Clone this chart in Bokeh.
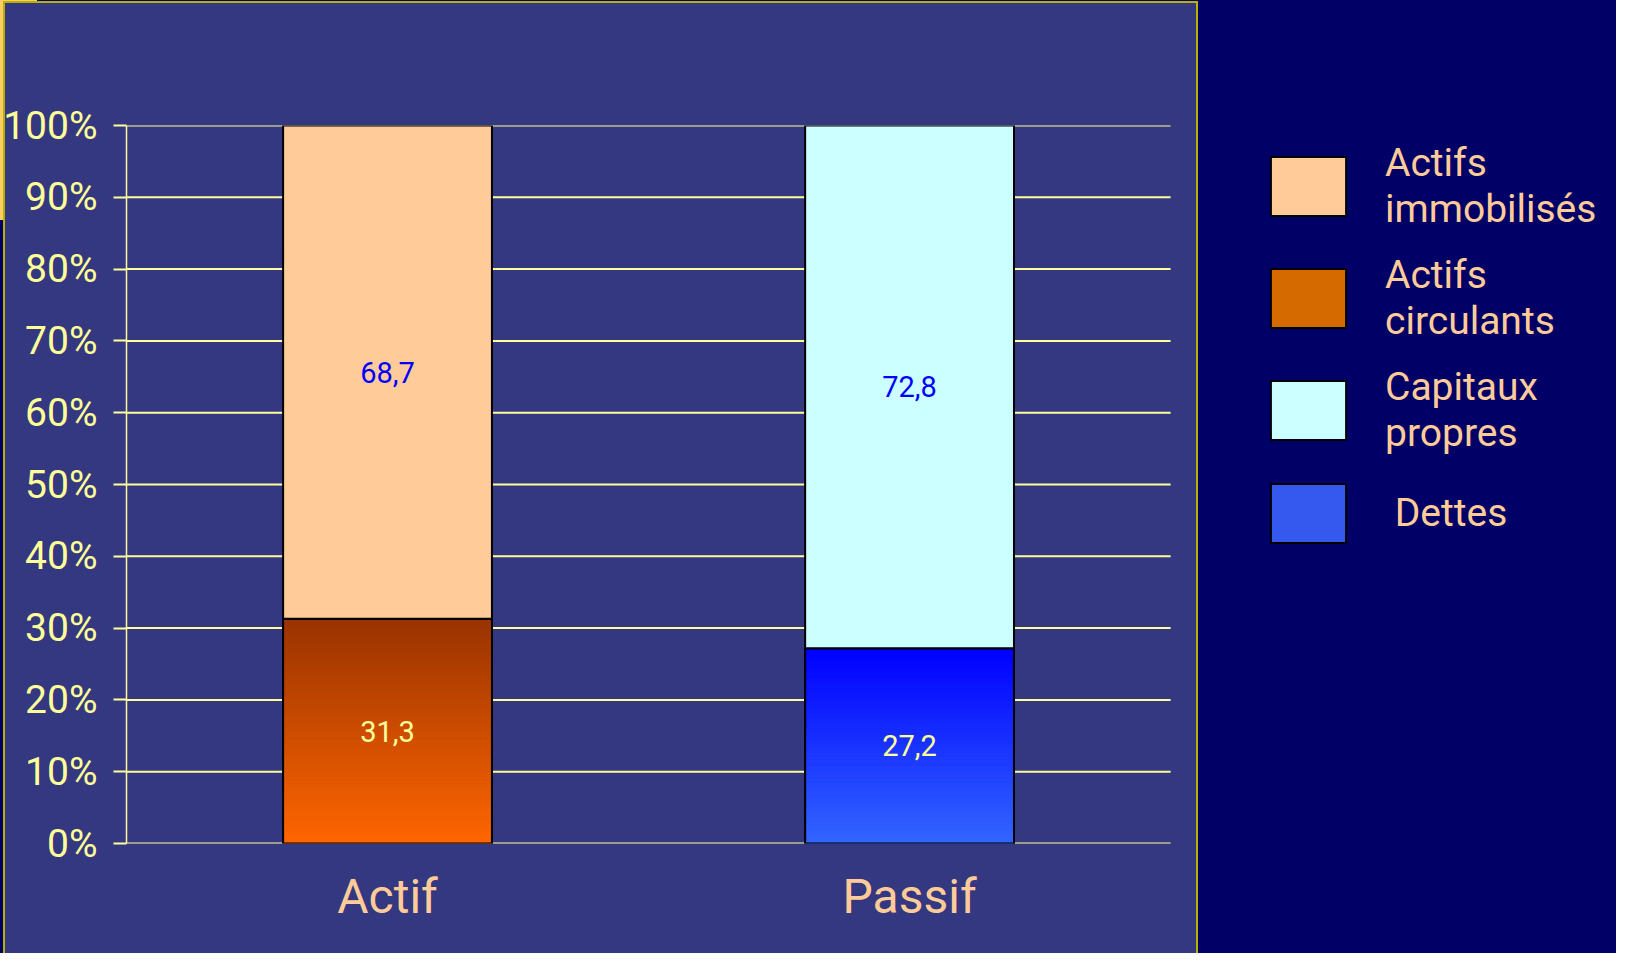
from bokeh.plotting import figure
from bokeh.models import (Range1d, FixedTicker, PrintfTickFormatter,
                          Legend, LegendItem, ColumnDataSource)
from bokeh.embed import file_html
from bokeh.resources import INLINE
from bokeh.core.properties import value

# ---------------- data ----------------
categories = ["Actif", "Passif"]
bottom_names = ["Actifs circulants", "Dettes"]
bottom_values = [31.3, 27.2]
top_names = ["Actifs immobilisés", "Capitaux propres"]
top_values = [68.7, 72.8]
y_ticks = [0, 10, 20, 30, 40, 50, 60, 70, 80, 90, 100]
legend_order = ["Actifs immobilisés", "Actifs circulants", "Capitaux propres", "Dettes"]
legend_labels = ["Actifs\nimmobilisés", "Actifs\ncirculants", "Capitaux\npropres", " Dettes"]

# ---------------- style / layout ----------------
FONT = "Roboto"
NAVY = "#000066"
PANEL = "#343880"
PANEL_EDGE = "#b3b300"
ACCENT = "#ffcc66"
GRID = "#ffff99"
PEACH = "#ffcc99"
top_colors = ["#ffcc99", "#ccffff"]
bottom_grad = [("#ff6600", "#993300"), ("#3366ff", "#0000ff")]  # (bottom, top)
bottom_legend_colors = ["#d46a00", "#3558ee"]
top_label_colors = ["#0000ff", "#0000ff"]
bottom_label_colors = ["#ffff99", "#ffff99"]
BAR_W = 0.4
W, H = 1616, 953
LEFT, TOP, BOTTOM = 119, 125, 110
PLOT_W = 1049                       # width of the chart area proper
FRAME_W = W - LEFT                  # frame runs to the right edge (legend zone)
X_END = len(categories) * FRAME_W / PLOT_W


def hex2rgb(h):
    h = h.lstrip("#")
    return tuple(int(h[i:i + 2], 16) for i in (0, 2, 4))


def mix(c0, c1, t):
    a, b = hex2rgb(c0), hex2rgb(c1)
    return "#%02x%02x%02x" % tuple(int(round(a[i] + (b[i] - a[i]) * t)) for i in range(3))


xs = [i + 0.5 for i in range(len(categories))]

p = figure(width=W, height=H, x_range=Range1d(0, X_END), y_range=Range1d(0, 100),
           output_backend="svg", toolbar_location=None, title=None,
           min_border_left=LEFT, min_border_right=0,
           min_border_top=TOP, min_border_bottom=BOTTOM)
p.border_fill_color = None
p.background_fill_color = None
p.outline_line_color = None
# slide background: navy page, accent block, bordered panel
p.styles = {
    "background": (
        f"linear-gradient({PANEL},{PANEL}) 5px 3px / 1191px 970px no-repeat, "
        f"linear-gradient({PANEL_EDGE},{PANEL_EDGE}) 3px 1px / 1195px 970px no-repeat, "
        f"linear-gradient({ACCENT},{ACCENT}) 0px 0px / 37px 220px no-repeat, "
        f"{NAVY}"
    )
}

# horizontal grid lines over the chart area only
p.segment(x0=0, x1=len(categories), y0=y_ticks, y1=y_ticks,
          line_color=GRID, line_width=2)

# bottom segments (base, used for legend swatch)
src_bot = ColumnDataSource(dict(x=xs, top=bottom_values, color=bottom_legend_colors))
r_bot = p.vbar(x="x", top="top", bottom=0, width=BAR_W, source=src_bot,
               fill_color="color", line_color="black", line_width=2)

# gradient slices for bottom segments
N = 60
gx, gb, gt, gc = [], [], [], []
for xc, v, (c0, c1) in zip(xs, bottom_values, bottom_grad):
    for i in range(N):
        gx.append(xc)
        gb.append(v * i / N)
        gt.append(v * (i + 1) / N)
        gc.append(mix(c0, c1, (i + 0.5) / N))
p.vbar(x=gx, bottom=gb, top=gt, width=BAR_W, fill_color=gc, line_color=gc, line_width=1)
p.vbar(x=xs, top=bottom_values, bottom=0, width=BAR_W, fill_color=None,
       line_color="black", line_width=2)

# top segments
src_top = ColumnDataSource(dict(x=xs, bottom=bottom_values,
                                top=[b + t for b, t in zip(bottom_values, top_values)],
                                color=top_colors))
r_top = p.vbar(x="x", bottom="bottom", top="top", width=BAR_W, source=src_top,
               fill_color="color", line_color="black", line_width=2)

# value labels
fmt = lambda v: ("%.1f" % v).replace(".", ",")
p.text(x=xs, y=[b / 2 for b in bottom_values], text=[fmt(v) for v in bottom_values],
       text_color=bottom_label_colors, text_font=value(FONT), text_font_size="29px",
       text_align="center", text_baseline="middle")
p.text(x=xs, y=[b + t / 2 for b, t in zip(bottom_values, top_values)],
       text=[fmt(v) for v in top_values], text_color=top_label_colors,
       text_font=value(FONT), text_font_size="29px", text_align="center",
       text_baseline="middle")

# axes
p.xgrid.grid_line_color = None
p.ygrid.grid_line_color = None

p.yaxis.ticker = FixedTicker(ticks=y_ticks)
p.yaxis.formatter = PrintfTickFormatter(format="%d%%")
p.yaxis.axis_line_color = GRID
p.yaxis.axis_line_width = 1.5
p.yaxis.major_tick_line_color = GRID
p.yaxis.major_tick_line_width = 2
p.yaxis.major_tick_out = 13
p.yaxis.major_tick_in = 0
p.yaxis.minor_tick_line_color = None
p.yaxis.major_label_text_color = GRID
p.yaxis.major_label_text_font = FONT
p.yaxis.major_label_text_font_size = "39px"
p.yaxis.major_label_standoff = 16

p.xaxis.ticker = FixedTicker(ticks=xs)
p.xaxis.major_label_overrides = {x: c for x, c in zip(xs, categories)}
p.xaxis.axis_line_color = None
p.xaxis.major_tick_line_color = None
p.xaxis.minor_tick_line_color = None
p.xaxis.major_tick_out = 0
p.xaxis.major_label_text_color = PEACH
p.xaxis.major_label_text_font = FONT
p.xaxis.major_label_text_font_size = "48px"
p.xaxis.major_label_standoff = 24

# legend, in the navy zone right of the chart area
rend_map = {
    "Actifs immobilisés": (r_top, 0),
    "Actifs circulants": (r_bot, 0),
    "Capitaux propres": (r_top, 1),
    "Dettes": (r_bot, 1),
}
items = [LegendItem(label=lab, renderers=[rend_map[n][0]], index=rend_map[n][1])
         for n, lab in zip(legend_order, legend_labels)]
legend = Legend(items=items, location=(PLOT_W + 86, 293), padding=0, margin=0,
                border_line_color=None, background_fill_alpha=0,
                glyph_width=94, glyph_height=74, label_standoff=30, spacing=20,
                label_text_color=PEACH, label_text_font=FONT,
                label_text_font_size="39px")
p.add_layout(legend, "center")

open("out.html", "w").write(file_html(p, INLINE))
